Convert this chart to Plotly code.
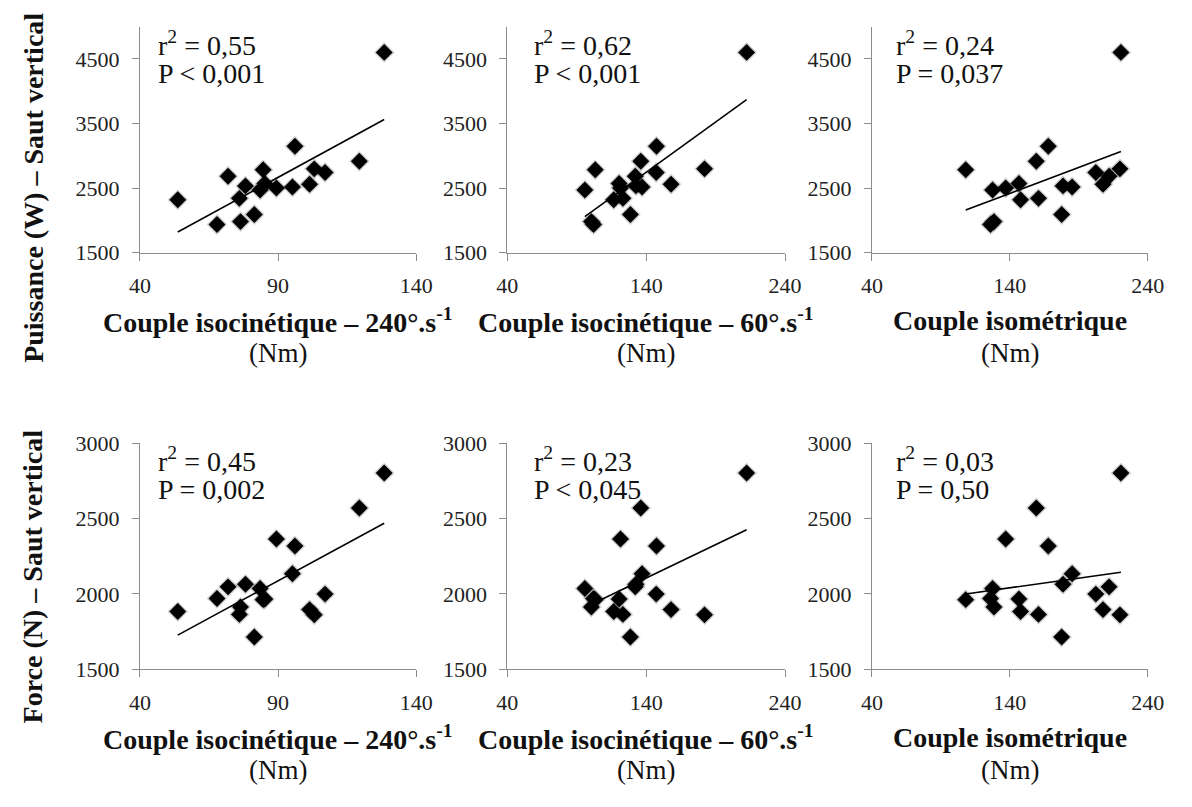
import numpy as np
import plotly.graph_objects as go

# ---- data (18 subjects) ----
couple_240 = [128.4, 84.6, 119.4, 89.4, 96.1, 95.2, 78.2, 81.4, 83.5, 67.9, 76.4, 85.2, 53.7, 76.0, 107.0, 101.4, 71.9, 103.1]
couple_60 = [212.3, 103.3, 136.1, 121.5, 147.4, 137.0, 132.6, 128.6, 95.8, 102.1, 100.5, 120.5, 116.6, 123.2, 147.2, 157.9, 132.1, 182.0]
couple_iso = [220.6, 108.0, 159.2, 137.0, 167.9, 185.2, 178.6, 177.6, 127.5, 126.0, 128.5, 146.6, 147.8, 160.8, 202.4, 207.6, 212.0, 219.9]
puissance = [4600, 2782, 2914, 2500, 3147, 2515, 2533, 2090, 2470, 1935, 1980, 2570, 2318, 2340, 2740, 2558, 2683, 2797]
force = [2802, 1962, 2570, 2364, 2318, 2134, 2064, 1714, 2036, 1970, 1913, 1966, 1883, 1864, 1999, 1896, 2047, 1861]

x_titles = ["Couple isocinétique – 240°.s<sup>-1</sup>", "Couple isocinétique – 60°.s<sup>-1</sup>", "Couple isométrique"]
x_unit = "(Nm)"
y_titles = ["Puissance (W) – Saut vertical", "Force (N) – Saut vertical"]
stats = [["r<sup>2</sup> = 0,55", "P < 0,001"], ["r<sup>2</sup> = 0,62", "P < 0,001"], ["r<sup>2</sup> = 0,24", "P = 0,037"],
         ["r<sup>2</sup> = 0,45", "P = 0,002"], ["r<sup>2</sup> = 0,23", "P < 0,045"], ["r<sup>2</sup> = 0,03", "P = 0,50"]]

x_ranges = [[40, 140], [40, 240], [40, 240]]
x_ticks = [[40, 90, 140], [40, 140, 240], [40, 140, 240]]
y_ranges = [[1500, 5000], [1500, 3000]]
y_ticks = [[1500, 2500, 3500, 4500], [1500, 2000, 2500, 3000]]

# ---- layout geometry (pixels) ----
W, H = 1192, 807
col_px = [(132, 415), (508.3, 792.7), (881.7, 1164)]
row_px = [(15, 248.3), (445, 678.3)]
ann_dx = [16, 25, 23]

def px2x(p):
    return p / W

def px2y(p):
    return 1 - p / H

SERIF = "Liberation Serif"
AXC = "#8c8c8c"

fig = go.Figure()
xs = [couple_240, couple_60, couple_iso]
ys = [puissance, force]
layout = {}
idx = 0
for r in range(2):
    for c in range(3):
        idx += 1
        sfx = "" if idx == 1 else str(idx)
        xa, ya = "x" + sfx, "y" + sfx
        xv = np.array(xs[c], dtype=float)
        yv = np.array(ys[r], dtype=float)
        # soft shadow
        fig.add_trace(go.Scatter(x=xv, y=yv, mode="markers", xaxis=xa, yaxis=ya,
                                 marker=dict(symbol="diamond", size=16, color="rgba(0,0,0,0.18)"),
                                 hoverinfo="skip", showlegend=False))
        fig.add_trace(go.Scatter(x=xv, y=yv, mode="markers", xaxis=xa, yaxis=ya,
                                 marker=dict(symbol="diamond", size=13, color="black"),
                                 showlegend=False))
        m, b = np.polyfit(xv, yv, 1)
        lx = np.array([xv.min(), xv.max()])
        fig.add_trace(go.Scatter(x=lx, y=m * lx + b, mode="lines", xaxis=xa, yaxis=ya,
                                 line=dict(color="black", width=1.6), showlegend=False))
        x0, x1 = col_px[c]
        y0, y1 = row_px[r]
        layout["xaxis" + sfx] = dict(domain=[px2x(x0), px2x(x1)], anchor=ya, range=x_ranges[c],
                                     tickvals=x_ticks[c], ticks="outside", ticklen=7, tickcolor=AXC,
                                     showline=True, linecolor=AXC, linewidth=1, showgrid=False,
                                     zeroline=False, ticklabelstandoff=6,
                                     tickfont=dict(family=SERIF, size=22, color="#222"))
        layout["yaxis" + sfx] = dict(domain=[px2y(y1), px2y(y0)], anchor=xa, range=y_ranges[r],
                                     tickvals=y_ticks[r], ticks="outside", ticklen=7, tickcolor=AXC,
                                     showline=True, linecolor=AXC, linewidth=1, showgrid=False,
                                     zeroline=False, ticklabelstandoff=8,
                                     tickfont=dict(family=SERIF, size=22, color="#222"))

annotations = []
for r in range(2):
    for c in range(3):
        s = stats[r * 3 + c]
        x0, x1 = col_px[c]
        y0, y1 = row_px[r]
        for k, line in enumerate(s):
            annotations.append(dict(text=line, xref="paper", yref="paper", showarrow=False,
                                    x=px2x(x0 + ann_dx[c]), y=px2y(y0 + 17 + 31 * k),
                                    xanchor="left", yanchor="middle",
                                    font=dict(family=SERIF, size=28, color="#111")))
        cx = (x0 + x1) / 2
        annotations.append(dict(text="<b>" + x_titles[c] + "</b>", xref="paper", yref="paper",
                                showarrow=False, x=px2x(cx), y=px2y(y1 + 70), xanchor="center",
                                yanchor="middle", font=dict(family=SERIF, size=28, color="#111")))
        annotations.append(dict(text=x_unit, xref="paper", yref="paper",
                                showarrow=False, x=px2x(cx), y=px2y(y1 + 104), xanchor="center",
                                yanchor="middle", font=dict(family=SERIF, size=27, color="#111")))

ycent = [181, 582]
for r in range(2):
    annotations.append(dict(text="<b>" + y_titles[r] + "</b>", xref="paper", yref="paper",
                            showarrow=False, x=px2x(23), y=px2y(ycent[r]), textangle=-90,
                            xanchor="center", yanchor="middle",
                            font=dict(family=SERIF, size=28, color="#111")))

fig.update_layout(width=W, height=H, margin=dict(l=0, r=0, t=0, b=0),
                  paper_bgcolor="white", plot_bgcolor="white",
                  annotations=annotations, **layout)
fig.write_html("out.html")
